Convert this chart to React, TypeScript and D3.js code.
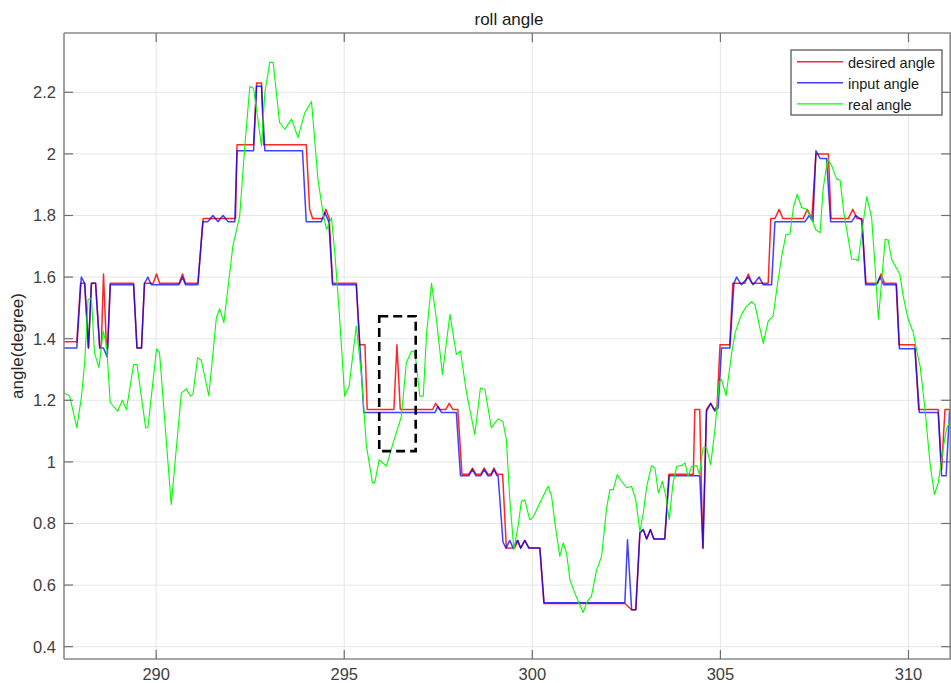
import React from "react";
import * as d3 from "d3";

// roll angle log: time (s) and angle (degree)
const desiredT = [
  287.55, 287.89, 287.99, 288.1, 288.2, 288.28, 288.39, 288.5, 288.54, 288.6, 288.68, 288.71, 288.78,
  289.4, 289.49, 289.61, 289.69, 289.92, 290.01, 290.09, 290.61, 290.7, 290.78, 291.11, 291.25,
  292.11, 292.15, 292.59, 292.67, 292.8, 292.86, 293.99, 294.08, 294.16, 294.44, 294.51, 294.6,
  294.69, 295.32, 295.41, 295.55, 295.61, 296.32, 296.4, 296.49, 297.35, 297.43, 297.54, 297.7,
  297.79, 297.89, 298.02, 298.13, 298.31, 298.41, 298.5, 298.63, 298.72, 298.82, 298.9, 298.98,
  299.06, 299.21, 299.31, 299.53, 299.62, 299.69, 299.8, 299.91, 300.2, 300.31, 302.46, 302.64,
  302.75, 302.86, 302.95, 303.04, 303.14, 303.23, 303.52, 303.63, 304.28, 304.32, 304.45, 304.53,
  304.63, 304.74, 304.84, 304.91, 304.99, 305.25, 305.33, 305.65, 305.74, 305.84, 306.27, 306.34,
  306.45, 306.56, 306.66, 307.2, 307.31, 307.43, 307.54, 307.87, 307.94, 308.4, 308.52, 308.63,
  308.76, 308.87, 309.18, 309.27, 309.36, 309.67, 309.75, 310.17, 310.27, 310.79, 310.88, 310.97,
  311.09, 311.13,
];
const desiredV = [
  1.39, 1.39, 1.58, 1.58, 1.37, 1.58, 1.58, 1.37, 1.37, 1.61, 1.37, 1.37, 1.58,
  1.58, 1.37, 1.37, 1.58, 1.58, 1.61, 1.58, 1.58, 1.61, 1.58, 1.58, 1.79,
  1.79, 2.03, 2.03, 2.23, 2.23, 2.03, 2.03, 1.82, 1.79, 1.79, 1.82, 1.79,
  1.58, 1.58, 1.38, 1.38, 1.17, 1.17, 1.38, 1.17, 1.17, 1.19, 1.17, 1.17,
  1.19, 1.17, 1.17, 0.96, 0.96, 0.98, 0.96, 0.96, 0.98, 0.96, 0.96, 0.98,
  0.96, 0.96, 0.72, 0.72, 0.745, 0.72, 0.745, 0.72, 0.72, 0.54, 0.54, 0.52,
  0.52, 0.77, 0.78, 0.75, 0.78, 0.75, 0.75, 0.96, 0.96, 1.17, 1.17, 0.72,
  1.17, 1.19, 1.17, 1.18, 1.38, 1.38, 1.58, 1.58, 1.61, 1.58, 1.58, 1.79,
  1.79, 1.82, 1.79, 1.79, 1.82, 1.79, 2.0, 2.0, 1.79, 1.79, 1.82, 1.79,
  1.79, 1.58, 1.58, 1.61, 1.58, 1.58, 1.38, 1.38, 1.17, 1.17, 0.975, 1.17,
  1.17, 1.08,
];

const inputT = [
  287.55, 287.89, 288.01, 288.1, 288.2, 288.28, 288.39, 288.5, 288.6, 288.7, 288.78, 289.4, 289.49,
  289.61, 289.69, 289.78, 289.87, 290.61, 290.7, 290.78, 291.11, 291.24, 291.37, 291.51, 291.64,
  291.78, 291.91, 292.09, 292.15, 292.59, 292.67, 292.8, 292.89, 293.89, 293.99, 294.39, 294.48,
  294.59, 294.69, 295.32, 295.52, 297.41, 297.49, 297.59, 297.98, 298.09, 298.31, 298.41, 298.5,
  298.63, 298.72, 298.82, 298.9, 298.98, 299.06, 299.09, 299.22, 299.3, 299.4, 299.49, 299.6,
  299.69, 299.8, 299.91, 300.2, 300.31, 302.46, 302.53, 302.64, 302.75, 302.86, 302.95, 303.04,
  303.14, 303.23, 303.52, 303.64, 304.45, 304.54, 304.63, 304.74, 304.85, 304.94, 305.03, 305.25,
  305.36, 305.43, 305.56, 305.74, 305.87, 306.03, 306.14, 306.36, 306.45, 307.25, 307.36, 307.46,
  307.54, 307.65, 307.82, 307.93, 308.49, 308.6, 308.76, 308.86, 309.15, 309.24, 309.34, 309.68,
  309.76, 310.17, 310.29, 310.79, 310.88, 311.0, 311.09, 311.13,
];
const inputV = [
  1.37, 1.37, 1.6, 1.58, 1.37, 1.58, 1.58, 1.37, 1.37, 1.34, 1.575, 1.575, 1.37,
  1.37, 1.58, 1.6, 1.575, 1.575, 1.6, 1.575, 1.575, 1.78, 1.78, 1.8, 1.78,
  1.8, 1.78, 1.78, 2.01, 2.01, 2.22, 2.22, 2.01, 2.01, 1.78, 1.78, 1.81,
  1.78, 1.575, 1.575, 1.16, 1.16, 1.18, 1.16, 1.16, 0.955, 0.955, 0.975, 0.955,
  0.955, 0.975, 0.955, 0.955, 0.975, 0.955, 0.955, 0.74, 0.72, 0.745, 0.72, 0.745,
  0.72, 0.745, 0.72, 0.72, 0.543, 0.543, 0.747, 0.52, 0.52, 0.77, 0.78, 0.75,
  0.78, 0.75, 0.75, 0.955, 0.955, 0.72, 1.165, 1.19, 1.165, 1.175, 1.37, 1.37,
  1.58, 1.6, 1.575, 1.6, 1.575, 1.6, 1.575, 1.575, 1.78, 1.78, 1.8, 1.78,
  2.01, 1.985, 1.985, 1.78, 1.78, 1.8, 1.785, 1.575, 1.575, 1.6, 1.575, 1.575,
  1.367, 1.367, 1.16, 1.16, 0.955, 0.955, 1.16, 1.16,
];

const realT = [
  287.55, 287.7, 287.89, 288.01, 288.1, 288.19, 288.28, 288.36, 288.48, 288.59, 288.68, 288.78,
  288.98, 289.1, 289.21, 289.4, 289.49, 289.72, 289.78, 290.01, 290.09, 290.4, 290.67, 290.8,
  290.91, 290.98, 291.1, 291.2, 291.4, 291.6, 291.69, 291.8, 292.04, 292.22, 292.35, 292.49,
  292.59, 292.8, 292.89, 293.02, 293.11, 293.28, 293.42, 293.6, 293.77, 293.95, 294.13, 294.3,
  294.44, 294.53, 294.66, 294.75, 294.88, 295.01, 295.13, 295.32, 295.46, 295.59, 295.75, 295.81,
  295.93, 296.12, 296.3, 296.52, 296.65, 296.79, 296.88, 297.01, 297.1, 297.19, 297.32, 297.45,
  297.61, 297.81, 297.98, 298.09, 298.25, 298.47, 298.62, 298.74, 298.91, 299.09, 299.22, 299.31,
  299.4, 299.51, 299.62, 299.71, 299.8, 299.93, 300.02, 300.24, 300.42, 300.51, 300.6, 300.73,
  300.82, 300.91, 301.0, 301.13, 301.24, 301.35, 301.46, 301.57, 301.71, 301.84, 301.97, 302.06,
  302.15, 302.26, 302.37, 302.51, 302.64, 302.75, 302.86, 302.95, 303.04, 303.17, 303.26, 303.35,
  303.46, 303.55, 303.64, 303.74, 303.84, 303.97, 304.06, 304.14, 304.23, 304.37, 304.44, 304.54,
  304.63, 304.74, 304.85, 304.97, 305.03, 305.15, 305.3, 305.39, 305.56, 305.7, 305.83, 305.92,
  306.03, 306.14, 306.27, 306.4, 306.51, 306.63, 306.74, 306.85, 306.94, 307.04, 307.16, 307.29,
  307.43, 307.54, 307.65, 307.73, 307.85, 307.96, 308.09, 308.18, 308.28, 308.4, 308.49, 308.6,
  308.66, 308.76, 308.89, 309.02, 309.11, 309.2, 309.29, 309.38, 309.46, 309.55, 309.67, 309.77,
  309.86, 309.99, 310.13, 310.22, 310.31, 310.44, 310.57, 310.69, 310.79, 310.93, 311.02, 311.1,
  311.13,
];
const realV = [
  1.224, 1.214, 1.111, 1.208, 1.322, 1.528, 1.53, 1.354, 1.306, 1.425, 1.38, 1.192,
  1.165, 1.2, 1.17, 1.316, 1.316, 1.111, 1.111, 1.367, 1.354, 0.861, 1.224, 1.237,
  1.214, 1.22, 1.338, 1.33, 1.214, 1.468, 1.497, 1.452, 1.701, 1.798, 2.015, 2.219,
  2.213, 2.026, 2.2, 2.297, 2.297, 2.102, 2.08, 2.113, 2.053, 2.133, 2.17, 1.918,
  1.804, 1.755, 1.793, 1.679, 1.463, 1.213, 1.246, 1.441, 1.278, 1.051, 0.932, 0.932,
  1.007, 0.986, 1.062, 1.148, 1.322, 1.36, 1.355, 1.213, 1.213, 1.419, 1.58, 1.463,
  1.284, 1.479, 1.349, 1.36, 1.224, 1.089, 1.24, 1.235, 1.111, 1.14, 1.13, 1.072,
  0.88, 0.715, 0.791, 0.872, 0.877, 0.812, 0.82, 0.877, 0.921, 0.89, 0.802, 0.693,
  0.737, 0.704, 0.617, 0.574, 0.542, 0.511, 0.547, 0.563, 0.65, 0.693, 0.845, 0.91,
  0.91, 0.959, 0.937, 0.916, 0.92, 0.877, 0.774, 0.834, 0.92, 0.988, 0.98, 0.899,
  0.937, 0.888, 0.812, 0.932, 0.986, 0.988, 0.997, 0.953, 0.984, 0.988, 0.96, 1.046,
  1.046, 0.991, 1.1, 1.26, 1.268, 1.215, 1.354, 1.419, 1.479, 1.506, 1.52, 1.51,
  1.446, 1.385, 1.457, 1.473, 1.571, 1.668, 1.737, 1.74, 1.826, 1.869, 1.826, 1.82,
  1.788, 1.753, 1.744, 1.885, 1.985, 1.961, 1.918, 1.915, 1.81, 1.723, 1.658, 1.658,
  1.652, 1.744, 1.861, 1.793, 1.636, 1.463, 1.593, 1.723, 1.72, 1.658, 1.631, 1.609,
  1.538, 1.463, 1.419, 1.36, 1.31, 1.17, 0.997, 0.894, 0.932, 1.051, 1.111, 1.13,
  1.135,
];

// marked time window (s) and angle range (degree)
const markT = [295.93, 296.9];
const markV = [1.035, 1.473];

const xTicks = [290, 295, 300, 305, 310];
const yTicks = [0.4, 0.6, 0.8, 1, 1.2, 1.4, 1.6, 1.8, 2, 2.2];

const seriesNames = ["desired angle", "input angle", "real angle"];
const seriesColors = ["#ff0000", "#0000ff", "#00ff00"];

const FONT = "'Liberation Sans', Arial, Helvetica, sans-serif";

export default function App() {
  const left = 64;
  const right = 951;
  const top = 33;
  const bottom = 659;

  const x = d3.scaleLinear().domain([287.55, 311.13]).range([left, right]);
  const y = d3.scaleLinear().domain([0.36, 2.3925]).range([bottom, top]);

  const line = d3
    .line<[number, number]>()
    .x((d) => x(d[0]))
    .y((d) => y(d[1]));

  const zip = (t: number[], v: number[]): [number, number][] =>
    t.map((ti, i) => [ti, v[i]]);

  const paths = [
    { d: line(zip(desiredT, desiredV)), color: seriesColors[0], w: 1.5, o: 0.85 },
    { d: line(zip(inputT, inputV)), color: seriesColors[1], w: 1.5, o: 0.75 },
    { d: line(zip(realT, realV)), color: seriesColors[2], w: 1.1, o: 1 },
  ];

  const axisRight = right - 0.8;
  const tickLen = 9;
  const fmt = (v: number) => String(Number(v.toFixed(1)));

  return (
    <svg
      width={951}
      height={683}
      style={{ position: "absolute", left: 0, top: 0, background: "#fff" }}
    >
      <defs>
        <clipPath id="plot-clip">
          <rect x={left} y={top} width={right - left} height={bottom - top} />
        </clipPath>
      </defs>
      <rect x={0} y={0} width={951} height={683} fill="#fff" />

      {/* grid */}
      {xTicks.map((t) => (
        <line key={"gx" + t} x1={x(t)} x2={x(t)} y1={top} y2={bottom} stroke="#e6e6e6" strokeWidth={1} />
      ))}
      {yTicks.map((t) => (
        <line key={"gy" + t} x1={left} x2={axisRight} y1={y(t)} y2={y(t)} stroke="#e6e6e6" strokeWidth={1} />
      ))}

      {/* series */}
      <g clipPath="url(#plot-clip)">
        {paths.map((p, i) => (
          <path
            key={i}
            d={p.d || ""}
            fill="none"
            stroke={p.color}
            strokeWidth={p.w}
            strokeOpacity={p.o}
            strokeLinejoin="round"
          />
        ))}
      </g>

      {/* marked window */}
      <rect
        x={x(markT[0])}
        y={y(markV[1])}
        width={x(markT[1]) - x(markT[0])}
        height={y(markV[0]) - y(markV[1])}
        fill="none"
        stroke="#000"
        strokeWidth={2.6}
        strokeDasharray="9,5"
      />

      {/* axes box */}
      <g stroke="#8a8a8a" strokeWidth={1.6} fill="none">
        <line x1={left} x2={left} y1={top} y2={bottom} />
        <line x1={left} x2={right} y1={bottom} y2={bottom} />
        <line x1={left} x2={right} y1={top} y2={top} />
        <line x1={axisRight} x2={axisRight} y1={top} y2={bottom} />
      </g>

      {/* ticks */}
      <g stroke="#6e6e6e" strokeWidth={1.2}>
        {xTicks.map((t) => (
          <g key={"tx" + t}>
            <line x1={x(t)} x2={x(t)} y1={bottom} y2={bottom - tickLen} />
            <line x1={x(t)} x2={x(t)} y1={top} y2={top + tickLen} />
          </g>
        ))}
        {yTicks.map((t) => (
          <g key={"ty" + t}>
            <line x1={left} x2={left + tickLen} y1={y(t)} y2={y(t)} />
            <line x1={axisRight} x2={axisRight - tickLen} y1={y(t)} y2={y(t)} />
          </g>
        ))}
      </g>

      {/* tick labels */}
      <g fontFamily={FONT} fontSize={16.5} fill="#404040">
        {xTicks.map((t) => (
          <text key={"lx" + t} x={x(t)} y={679.5} textAnchor="middle">
            {fmt(t)}
          </text>
        ))}
        {yTicks.map((t) => (
          <text key={"ly" + t} x={56} y={y(t) + 6} textAnchor="end">
            {fmt(t)}
          </text>
        ))}
      </g>

      {/* title and axis label */}
      <text x={509} y={25} textAnchor="middle" fontFamily={FONT} fontSize={17} fill="#1a1a1a">
        roll angle
      </text>
      <text
        transform="translate(23,346) rotate(-90)"
        textAnchor="middle"
        fontFamily={FONT}
        fontSize={17}
        fill="#262626"
      >
        angle(degree)
      </text>

      {/* legend */}
      <g>
        <rect x={791} y={50} width={151} height={65} fill="#fff" stroke="#5a5a5a" strokeWidth={1.3} />
        {seriesNames.map((name, i) => {
          const ly = 61.7 + i * 21.1;
          return (
            <g key={name}>
              <line
                x1={797}
                x2={843}
                y1={ly}
                y2={ly}
                stroke={seriesColors[i]}
                strokeWidth={i === 2 ? 1.1 : 1.5}
                strokeOpacity={i === 0 ? 0.85 : i === 1 ? 0.75 : 1}
              />
              <text x={848} y={ly + 6.5} fontFamily={FONT} fontSize={14.5} fill="#1a1a1a">
                {name}
              </text>
            </g>
          );
        })}
      </g>
    </svg>
  );
}
